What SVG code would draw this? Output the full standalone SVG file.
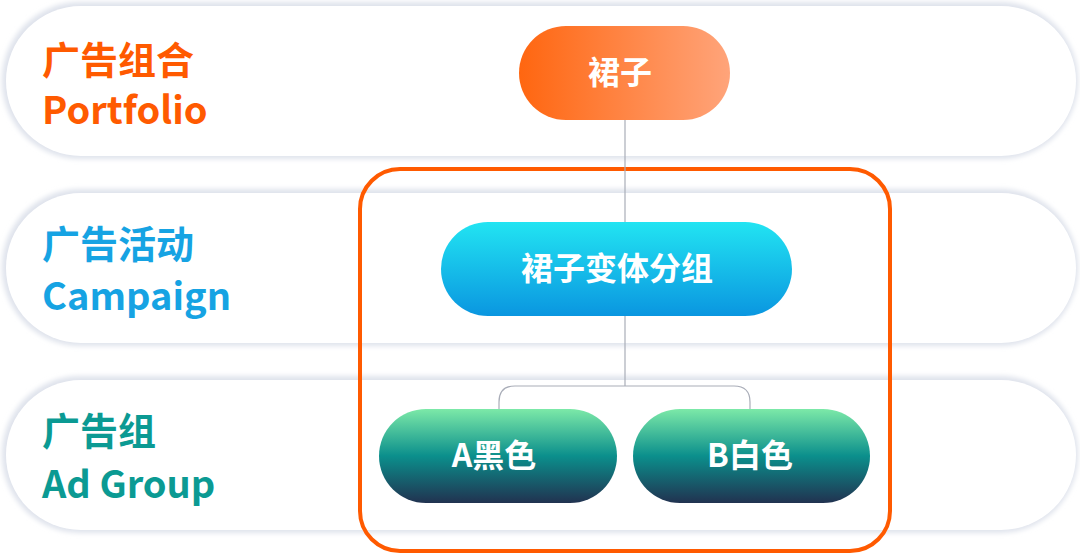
<svg xmlns="http://www.w3.org/2000/svg" width="1080" height="555" viewBox="0 0 1080 555">
<defs>
<linearGradient id="gO" x1="0" y1="0" x2="1" y2="0"><stop offset="0" stop-color="#ff6610"/><stop offset="1" stop-color="#ffa47a"/></linearGradient>
<linearGradient id="gC" x1="0" y1="0" x2="0" y2="1"><stop offset="0" stop-color="#22e4f2"/><stop offset="1" stop-color="#0a96e0"/></linearGradient>
<linearGradient id="gG" x1="0" y1="0" x2="0" y2="1"><stop offset="0" stop-color="#7ce9a8"/><stop offset="0.5" stop-color="#0b8f8c"/><stop offset="1" stop-color="#213250"/></linearGradient>
<filter id="sh" x="-5%" y="-20%" width="110%" height="140%"><feGaussianBlur stdDeviation="2.5"/></filter>
<style>
.band{fill:#fff}
.bandsh{fill:#dfe3ec}
.lbl{font-family:"Noto Sans CJK SC","Noto Sans",sans-serif;font-weight:700;font-size:38px}
.nt{font-family:"Noto Sans CJK SC","Noto Sans",sans-serif;font-weight:700;font-size:32px;fill:#fff;text-anchor:middle}
.ln{fill:none;stroke:#a9adb8;stroke-width:1.2}
</style>
</defs>
<rect width="1080" height="555" fill="#fff"/>
<g id="bands">
<rect class="bandsh" x="2" y="2" width="1076" height="157" rx="78" filter="url(#sh)"/>
<rect class="band" x="6" y="6" width="1070" height="150" rx="75"/>
<rect class="bandsh" x="2" y="189" width="1076" height="157" rx="78" filter="url(#sh)"/>
<rect class="band" x="6" y="193" width="1070" height="150" rx="75"/>
<rect class="bandsh" x="2" y="376" width="1076" height="157" rx="78" filter="url(#sh)"/>
<rect class="band" x="6" y="380" width="1070" height="150" rx="75"/>
</g>
<g id="labels">
<text class="lbl" x="42" y="74" fill="#ff5a00">广告组合</text>
<text class="lbl" x="42" y="124" fill="#ff5a00">Portfolio</text>
<text class="lbl" x="42" y="258" fill="#16a3e3">广告活动</text>
<text class="lbl" x="42" y="310" fill="#16a3e3">Campaign</text>
<text class="lbl" x="42" y="445" fill="#0b9a93">广告组</text>
<text class="lbl" x="42" y="498" fill="#0b9a93">Ad Group</text>
</g>
<g id="frame"><rect x="360" y="169" width="530" height="382" rx="40" fill="none" stroke="#ff5a00" stroke-width="4"/></g>
<g id="connectors">
<path class="ln" d="M625 120 V222"/>
<path class="ln" d="M625 316 V386"/>
<path class="ln" d="M499 409 V402 Q499 386 515 386 H734 Q750 386 750 402 V409"/>
</g>
<g id="n1"><rect x="519" y="26" width="211" height="94" rx="47" fill="url(#gO)"/><text class="nt" x="620" y="84">裙子</text></g>
<g id="n2"><rect x="441" y="222" width="351" height="94" rx="47" fill="url(#gC)"/><text class="nt" x="617" y="280">裙子变体分组</text></g>
<g id="n3"><rect x="379" y="409" width="238" height="94" rx="47" fill="url(#gG)"/><text class="nt" x="494" y="467">A黑色</text></g>
<g id="n4"><rect x="633" y="409" width="237" height="94" rx="47" fill="url(#gG)"/><text class="nt" x="750" y="467">B白色</text></g>
</svg>
